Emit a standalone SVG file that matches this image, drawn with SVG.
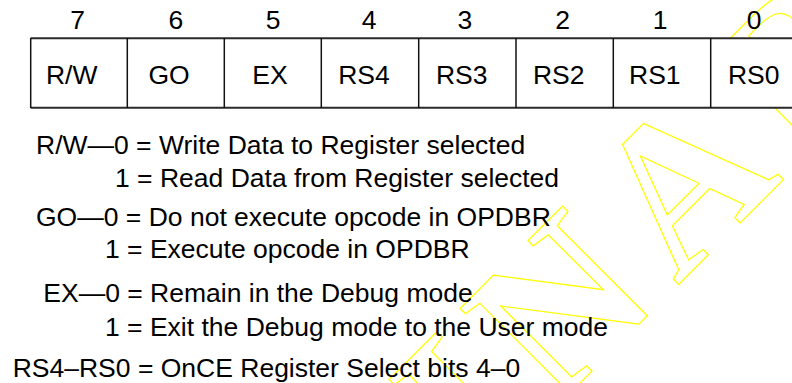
<svg xmlns="http://www.w3.org/2000/svg" width="792" height="383" viewBox="0 0 792 383">
  <style>
    .wm { font-family: "Liberation Serif", "Times New Roman", serif; font-weight: bold; font-size: 210px; fill: none; stroke: #ffff00; stroke-width: 1.2; }
    .cell { fill: #ffffff; stroke: none; }
    .hline { stroke: #2a2a2a; stroke-width: 2; }
    .vline { stroke: #111111; stroke-width: 1.5; }
    .t { font-family: "Liberation Sans", Arial, sans-serif; font-size: 26.5px; fill: #000000; }
    .c { text-anchor: middle; }
  </style>
  <rect x="0" y="0" width="792" height="383" fill="#ffffff"/>

  <g id="watermark" transform="translate(731,232) rotate(-45)">
    <text class="wm" x="-1325.3 -1175 -1001.4 -839.3 -677.2 -573.5 -353.3 -249.6 -76 97.6 271.2" y="0">PRELIMINARY</text>
  </g>

  <g id="register">
    <rect class="cell" x="30.7" y="38" width="780" height="70"/>
    <line class="hline" x1="30.7" y1="38.3" x2="792" y2="38.3"/>
    <line class="hline" x1="30.7" y1="107.7" x2="792" y2="107.7"/>
    <line class="vline" x1="30.7" y1="38" x2="30.7" y2="108"/>
    <line class="vline" x1="127.3" y1="38" x2="127.3" y2="108"/>
    <line class="vline" x1="224.3" y1="38" x2="224.3" y2="108"/>
    <line class="vline" x1="321.3" y1="38" x2="321.3" y2="108"/>
    <line class="vline" x1="418.7" y1="38" x2="418.7" y2="108"/>
    <line class="vline" x1="516" y1="38" x2="516" y2="108"/>
    <line class="vline" x1="613.3" y1="38" x2="613.3" y2="108"/>
    <line class="vline" x1="710.7" y1="38" x2="710.7" y2="108"/>
  </g>

  <g id="bit7"><text class="t c" x="77.7" y="29">7</text><text class="t c" x="71.7" y="84">R/W</text></g>
  <g id="bit6"><text class="t c" x="175.8" y="29">6</text><text class="t c" x="169" y="84">GO</text></g>
  <g id="bit5"><text class="t c" x="273" y="29">5</text><text class="t c" x="270" y="84">EX</text></g>
  <g id="bit4"><text class="t c" x="369" y="29">4</text><text class="t c" x="364" y="84">RS4</text></g>
  <g id="bit3"><text class="t c" x="464.8" y="29">3</text><text class="t c" x="461.7" y="84">RS3</text></g>
  <g id="bit2"><text class="t c" x="562.7" y="29">2</text><text class="t c" x="558.7" y="84">RS2</text></g>
  <g id="bit1"><text class="t c" x="660" y="29">1</text><text class="t c" x="654.8" y="84">RS1</text></g>
  <g id="bit0"><text class="t c" x="754" y="29">0</text><text class="t c" x="753.7" y="84">RS0</text></g>

  <g id="legend">
    <text class="t" x="36" y="154">R/W—0 = Write Data to Register selected</text>
    <text class="t" x="115" y="187">1 = Read Data from Register selected</text>
    <text class="t" x="36" y="226">GO—0 = Do not execute opcode in OPDBR</text>
    <text class="t" x="105" y="258">1 = Execute opcode in OPDBR</text>
    <text class="t" x="43.3" y="302">EX—0 = Remain in the Debug mode</text>
    <text class="t" x="105" y="336">1 = Exit the Debug mode to the User mode</text>
    <text class="t" x="12.7" y="377">RS4–RS0 = OnCE Register Select bits 4–0</text>
  </g>
</svg>
